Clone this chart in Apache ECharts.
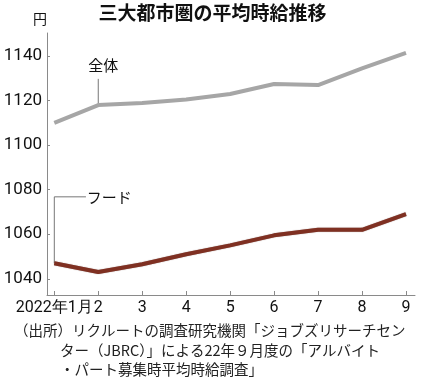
<!DOCTYPE html>
<html><head><meta charset="utf-8">
<script src="https://cdn.jsdelivr.net/npm/echarts@6/dist/echarts.min.js"></script>
<style>html,body{margin:0;padding:0;background:#fff}#c{width:425px;height:389px}</style>
</head><body><div id="c"></div>
<script>
const months = [1,2,3,4,5,6,7,8,9];
const monthLabels = ['2022年1月','2','3','4','5','6','7','8','9'];
const zentai = [1110,1118,1119,1120.5,1123,1127.5,1127,1134.5,1141.5];
const food = [1047,1043,1046.5,1051,1055,1059.5,1062,1062,1069];
const yTicks = [1040,1060,1080,1100,1120,1140];
const title = '三大都市圏の平均時給推移';
const unit = '円';
const sourceLines = ['（出所）リクルートの調査研究機関「ジョブズリサーチセン','ター（JBRC）」による22年９月度の「アルバイト','・パート募集時平均時給調査」'];

const numFont = 'Roboto,sans-serif';
const jpFont = '"Noto Sans CJK JP",sans-serif';
const chart = echarts.init(document.getElementById('c'), null, {renderer:'canvas'});
const option = {
  animation:false,
  backgroundColor:'#fff',
  grid:{left:47,right:10,top:33,bottom:94},
  xAxis:{type:'value',min:0.834,max:9.205,
    axisLine:{show:true,lineStyle:{color:'#8a8a8a',width:1}},
    axisTick:{show:true,inside:true,length:4,customValues:months,lineStyle:{color:'#8a8a8a'}},
    axisLabel:{customValues:months,showMinLabel:true,hideOverlap:false,
      formatter:v=>monthLabels[months.indexOf(Math.round(v))]||'',
      fontFamily:numFont,fontSize:16,color:'#111',margin:5},
    splitLine:{show:false}},
  yAxis:{type:'value',min:1032.7,max:1150.4,
    axisLine:{show:true,lineStyle:{color:'#8a8a8a',width:1}},
    axisTick:{show:true,inside:true,length:3,customValues:yTicks,lineStyle:{color:'#8a8a8a'}},
    axisLabel:{customValues:yTicks,formatter:v=>String(v),fontFamily:numFont,fontSize:17,color:'#111',margin:5},
    splitLine:{show:false}},
  series:[
    {type:'line',data:months.map((m,i)=>[m,zentai[i]]),symbol:'none',lineStyle:{color:'#a6a6a6',width:4},z:3},
    {type:'line',data:months.map((m,i)=>[m,food[i]]),symbol:'none',lineStyle:{color:'#7f3022',width:4,shadowColor:'rgba(60,10,0,0.5)',shadowBlur:1},z:4},
    {type:'line',data:[[2,1118],[2,1129.8]],symbol:'none',lineStyle:{color:'#777',width:1},z:2},
    {type:'line',data:[[1,1047],[1,1076.8],[1.72,1076.8]],symbol:'none',lineStyle:{color:'#777',width:1},z:2}
  ]
};
chart.setOption(option);
const pZ = chart.convertToPixel({gridIndex:0},[2,1135.8]);
const pF = chart.convertToPixel({gridIndex:0},[1.74,1076.8]);
chart.setOption({graphic:[
  {type:'text',left:'center',top:3,style:{text:title,font:'bold 19px '+jpFont,fill:'#111'}},
  {type:'text',x:33,y:12,style:{text:unit,font:'14px '+jpFont,fill:'#111'}},
  {type:'text',x:pZ[0]-10,y:pZ[1],style:{text:'全体',font:'15px '+jpFont,fill:'#111',textVerticalAlign:'middle'}},
  {type:'text',x:pF[0],y:pF[1],style:{text:'フード',font:'15px '+jpFont,fill:'#111',textVerticalAlign:'middle'}},
  {type:'text',x:14,y:323,style:{text:sourceLines[0],font:'14.5px '+jpFont,fill:'#222'}},
  {type:'text',x:60,y:343,style:{text:sourceLines[1],font:'14.5px '+jpFont,fill:'#222'}},
  {type:'text',x:60,y:362,style:{text:sourceLines[2],font:'14.5px '+jpFont,fill:'#222'}}
]});
</script></body></html>
